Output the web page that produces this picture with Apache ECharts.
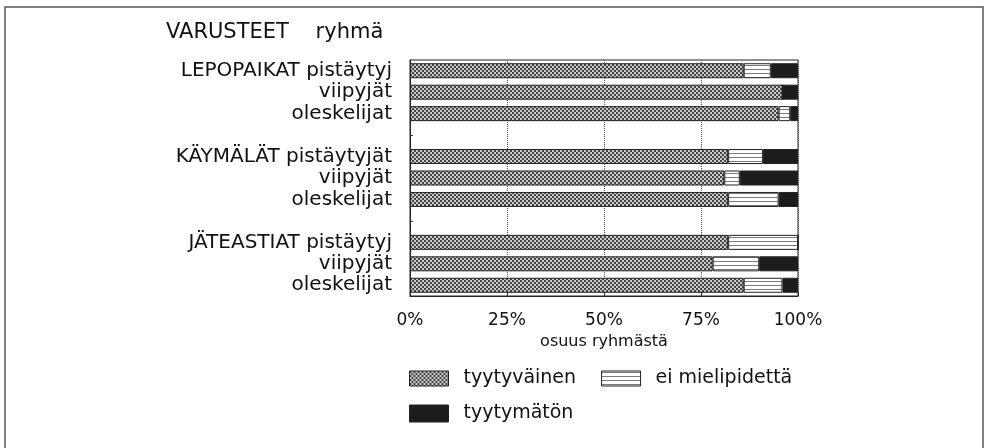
<!DOCTYPE html>
<html>
<head>
<meta charset="utf-8">
<script src="https://cdn.jsdelivr.net/npm/echarts@6/dist/echarts.min.js"></script>
<style>
html,body{margin:0;padding:0;background:#fff;}
#chart{width:985px;height:448px;}
</style>
</head>
<body>
<div id="chart"></div>
<script>
// ---- data ----
var categories = ['LEPOPAIKAT pistäytyj', 'viipyjät', 'oleskelijat', '',
                  'KÄYMÄLÄT pistäytyjät', 'viipyjät', 'oleskelijat', '',
                  'JÄTEASTIAT pistäytyj', 'viipyjät', 'oleskelijat'];
var seriesNames = ['tyytyväinen', 'ei mielipidettä', 'tyytymätön'];
var satisfied    = [86, 96, 95, null, 82, 81, 82, null, 82, 78, 86];
var noOpinion    = [7, 0, 3, null, 9, 4, 13, null, 18, 12, 10];
var dissatisfied = [7, 4, 2, null, 9, 15, 5, null, 0, 10, 4];
var xTicks = [0, 25, 50, 75, 100];
var titleText = 'VARUSTEET    ryhmä';
var xAxisName = 'osuus ryhmästä';

// ---- patterns ----
function checker() {
  var c = document.createElement('canvas'); c.width = 4; c.height = 4;
  var g = c.getContext('2d');
  g.fillStyle = '#cccccc'; g.fillRect(0, 0, 4, 4);
  g.fillStyle = '#444444'; g.fillRect(0, 0, 2, 2); g.fillRect(2, 2, 2, 2);
  return c;
}
function hatch() {
  var c = document.createElement('canvas'); c.width = 4; c.height = 4;
  var g = c.getContext('2d');
  g.fillStyle = '#ffffff'; g.fillRect(0, 0, 4, 4);
  g.fillStyle = '#7a7a7a'; g.fillRect(0, 1, 4, 1);
  return c;
}
var colors = [
  {image: checker(), repeat: 'repeat'},
  {image: hatch(), repeat: 'repeat'},
  '#1c1c1c'
];
var values = [satisfied, noOpinion, dissatisfied];

var FONT = 'DejaVu Sans';
var TXT = '#111';
var chart = echarts.init(document.getElementById('chart'), null, {renderer: 'canvas'});
var series = seriesNames.map(function (n, i) {
  return {
    name: n, type: 'bar', stack: 'total', barWidth: 15,
    data: values[i],
    itemStyle: {color: colors[i], borderColor: '#222', borderWidth: 1},
    emphasis: {disabled: true}
  };
});

chart.setOption({
  animation: false,
  backgroundColor: '#fff',
  title: {
    text: titleText, left: 166, top: 22, padding: 0,
    textStyle: {fontFamily: FONT, fontSize: 21, fontWeight: 'normal', color: TXT}
  },
  graphic: [{
    type: 'polyline', silent: true,
    shape: {points: [[5, 460], [5, 7], [983, 7], [983, 460]]},
    style: {stroke: '#555', lineWidth: 1.5, fill: null}
  }],
  legend: [{
    data: [seriesNames[0], seriesNames[1]],
    left: 409, top: 369, padding: 0, orient: 'horizontal',
    itemWidth: 39, itemHeight: 15, itemGap: 25,
    icon: 'rect',
    itemStyle: {borderColor: '#222', borderWidth: 1},
    textStyle: {fontFamily: FONT, fontSize: 19, color: TXT, padding: [0, 0, 0, 10]},
    selectedMode: false
  }, {
    data: [seriesNames[2]],
    left: 409, top: 404, padding: 0,
    itemWidth: 39, itemHeight: 17,
    icon: 'rect',
    itemStyle: {borderColor: '#222', borderWidth: 1},
    textStyle: {fontFamily: FONT, fontSize: 19, color: TXT, padding: [0, 0, 0, 10]},
    selectedMode: false
  }],
  grid: {
    left: 410, right: 187, top: 60, bottom: 152,
    show: true, borderColor: '#222', borderWidth: 1, containLabel: false
  },
  xAxis: {
    type: 'value', min: xTicks[0], max: xTicks[xTicks.length - 1], interval: 25,
    name: xAxisName, nameLocation: 'middle', nameGap: 38,
    nameTextStyle: {fontFamily: FONT, fontSize: 16, color: TXT},
    axisLine: {show: true, lineStyle: {color: '#222'}},
    axisTick: {show: true, inside: true, length: 4, lineStyle: {color: '#222'}},
    axisLabel: {formatter: '{value}%', margin: 16, fontFamily: FONT, fontSize: 17, color: TXT},
    splitLine: {show: true, lineStyle: {type: 'dotted', color: '#555', width: 1}}
  },
  yAxis: {
    type: 'category', inverse: true, data: categories,
    axisLine: {show: true, lineStyle: {color: '#222'}},
    axisTick: {
      show: true, inside: true, length: 3, alignWithLabel: true,
      interval: function (i, v) { return v === ''; },
      lineStyle: {color: '#333'}
    },
    axisLabel: {interval: 0, margin: 18, fontFamily: FONT, fontSize: 20, color: TXT},
    splitLine: {show: false}
  },
  series: series
});
</script>
</body>
</html>
